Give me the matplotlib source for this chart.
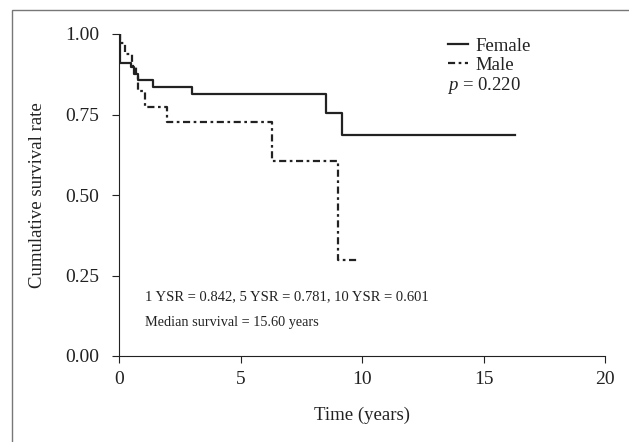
import matplotlib
matplotlib.use("Agg")
import matplotlib.pyplot as plt
from matplotlib.patches import Rectangle

plt.rcParams['font.family'] = ['Liberation Serif', 'DejaVu Serif']
plt.rcParams['mathtext.fontset'] = 'custom'
plt.rcParams['mathtext.it'] = 'Liberation Serif:italic'
plt.rcParams['mathtext.rm'] = 'Liberation Serif'

# Kaplan-Meier step data
female_time = [0, 0.05, 0.48, 0.62, 0.78, 1.4, 3.0, 8.51, 9.19, 16.3]
female_surv = [1.0, 0.91, 0.897, 0.877, 0.857, 0.834, 0.815, 0.756, 0.687, 0.687]
male_time = [0, 0.05, 0.25, 0.55, 0.68, 0.8, 1.07, 1.99, 6.28, 9.03, 9.88]
male_surv = [1.0, 0.971, 0.937, 0.90, 0.87, 0.823, 0.772, 0.726, 0.606, 0.298, 0.298]

xticks = [0, 5, 10, 15, 20]
yticks = [0.0, 0.25, 0.5, 0.75, 1.0]
ytick_labels = ['0.00', '0.25', '0.50', '0.75', '1.00']

fig = plt.figure(figsize=(6.29, 4.42), dpi=100)
ax = fig.add_axes([119/629, 1-356/442, (605-119)/629, (356-34)/442])

ax.step(female_time, female_surv, where='post', color='#222222', lw=1.6,
        label='Female')
ax.step(male_time, male_surv, where='post', color='#222222', lw=1.6,
        linestyle=(0, (3.2, 1.6, 1.2, 1.6)), label='Male')

ax.set_xlim(0, 20)
ax.set_ylim(0, 1)
ax.set_xticks(xticks)
ax.set_yticks(yticks)
ax.set_yticklabels(ytick_labels)
ax.tick_params(direction='out', length=5, width=0.8, labelsize=14, pad=6,
               colors='#222222')
ax.tick_params(axis='y', pad=9)
for s in ['top', 'right']:
    ax.spines[s].set_visible(False)
for s in ['left', 'bottom']:
    ax.spines[s].set_linewidth(0.8)
    ax.spines[s].set_color('#222222')

ax.set_xlabel('Time (years)', fontsize=13.5, labelpad=13, color='#222222')
ax.set_ylabel('Cumulative survival rate', fontsize=13.5, labelpad=14, color='#222222')

leg = ax.legend(loc='upper left', bbox_to_anchor=(0.676, 0.988), frameon=False,
                fontsize=13.5, handlelength=1.1, handletextpad=0.4,
                labelspacing=0.1, borderaxespad=0, borderpad=0)
for t in leg.get_texts():
    t.set_color('#222222')
ax.text(0.675, 0.84, r'$p$ = 0.220', transform=ax.transAxes, fontsize=13.5,
        color='#222222', va='center')

ax.text(0.053, 0.185, '1 YSR = 0.842, 5 YSR = 0.781, 10 YSR = 0.601',
        transform=ax.transAxes, fontsize=10.5, color='#222222', va='center')
ax.text(0.053, 0.105, 'Median survival = 15.60 years',
        transform=ax.transAxes, fontsize=10.3, color='#222222', va='center')

fig.patches.append(Rectangle((12/629, -0.1), 1.2, 1-10/442+0.1,
                             transform=fig.transFigure, fill=False,
                             edgecolor='#777777', lw=1.0))

fig.savefig('out.png', dpi=100)
